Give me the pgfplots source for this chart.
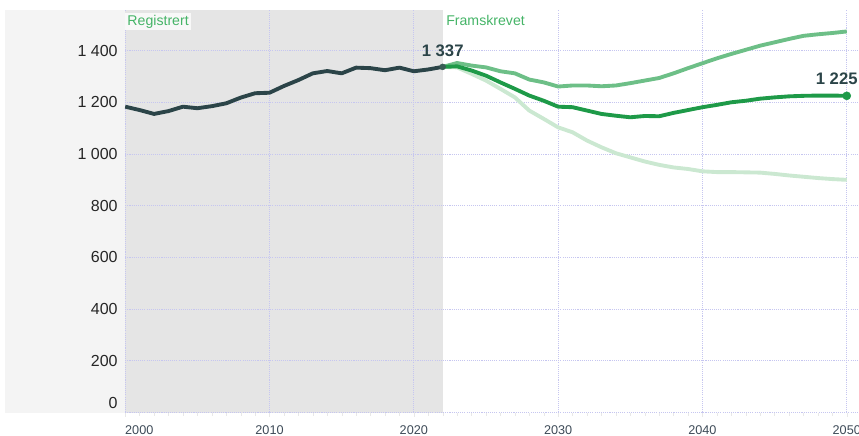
\documentclass[border=0pt]{standalone}
\usepackage{fontspec}
\setmainfont{Liberation Sans}
\usepackage{pgfplots}
\pgfplotsset{compat=1.18}
\definecolor{slate}{HTML}{2B4448}
\definecolor{gmain}{HTML}{1E9A48}
\definecolor{ghigh}{HTML}{6DBF87}
\definecolor{glow}{HTML}{CBE8D1}
\definecolor{gtext}{HTML}{45B467}
\definecolor{gridc}{HTML}{C6C6F0}
\definecolor{stripc}{HTML}{F4F4F4}
\definecolor{histc}{HTML}{E5E5E5}
\definecolor{xlab}{HTML}{3D4A57}

\begin{document}
\begin{tikzpicture}
\begin{axis}[
  at={(0,0)}, anchor=south west,
  scale only axis, width=548.85pt, height=301.9pt,
  xmin=2000, xmax=2050.71, ymin=0, ymax=1557,
  set layers=standard, clip=false,
  axis line style={draw=none},
  xtick={2000,2010,2020,2030,2040,2050},
  xticklabels={\makebox[0pt][l]{2000},2010,2020,2030,2040,2050},
  minor x tick num=9,
  ytick={0,200,400,600,800,1000,1200,1400},
  yticklabels={\raisebox{7.5pt}[\height][\depth]{0},200,400,600,800,1\ 000,1\ 200,1\ 400},
  xtick pos=bottom, ytick pos=left,
  tick align=outside,
  major tick length=3pt, minor tick length=2.5pt,
  xtick style={color=black!9},
  ytick style={draw=none},
  grid=major,
  major grid style={gridc, line width=0.6pt, dash pattern=on 0.8pt off 0.8pt},
  xticklabel style={font=\fontsize{9.5}{10}\selectfont, text=xlab, inner sep=0pt, anchor=north, yshift=-6.3pt},
  yticklabel style={font=\fontsize{12}{13}\selectfont, text=black!85, inner sep=0pt, anchor=east, xshift=-2.5pt},
]
% backgrounds
\addplot[draw=none, fill=stripc, on layer=axis background]
  coordinates {(1991.67,0) (2000,0) (2000,1557) (1991.67,1557)} -- cycle;
\addplot[draw=none, fill=histc, on layer=axis background]
  coordinates {(2000,0) (2022,0) (2022,1557) (2000,1557)} -- cycle;

% lav
\addplot[glow, line width=2.9pt, line join=round] coordinates {
 (2022,1337)(2023,1335)(2024,1310)(2025,1284)(2026,1252)(2027,1219)(2028,1168)
 (2029,1136)(2030,1103)(2031,1084)(2032,1052)(2033,1026)(2034,1003)(2035,987)
 (2036,971)(2037,958)(2038,948)(2039,942)(2040,933)(2041,930)(2042,930)
 (2043,929)(2044,928)(2045,923)(2046,917)(2047,912)(2048,907)(2049,903)(2050,900)};
% hoy
\addplot[ghigh, line width=2.9pt, line join=round] coordinates {
 (2022,1337)(2023,1352)(2024,1342)(2025,1335)(2026,1320)(2027,1312)(2028,1288)
 (2029,1277)(2030,1261)(2031,1265)(2032,1265)(2033,1262)(2034,1265)(2035,1274)
 (2036,1284)(2037,1294)(2038,1312)(2039,1332)(2040,1351)(2041,1370)(2042,1387)
 (2043,1403)(2044,1419)(2045,1432)(2046,1445)(2047,1457)(2048,1463)(2049,1468)(2050,1474)};
% hovedalternativ
\addplot[gmain, line width=2.9pt, line join=round] coordinates {
 (2022,1337)(2023,1339)(2024,1323)(2025,1303)(2026,1277)(2027,1252)(2028,1226)
 (2029,1206)(2030,1183)(2031,1181)(2032,1168)(2033,1155)(2034,1148)(2035,1142)
 (2036,1147)(2037,1146)(2038,1159)(2039,1170)(2040,1181)(2041,1190)(2042,1200)
 (2043,1206)(2044,1214)(2045,1219)(2046,1223)(2047,1225)(2048,1226)(2049,1226)(2050,1225)};
% registrert
\addplot[slate, line width=2.9pt, line join=round] coordinates {
 (2000,1183)(2001,1170)(2002,1155)(2003,1166)(2004,1183)(2005,1177)(2006,1185)
 (2007,1196)(2008,1218)(2009,1235)(2010,1237)(2011,1263)(2012,1286)(2013,1312)
 (2014,1321)(2015,1312)(2016,1334)(2017,1332)(2018,1324)(2019,1334)(2020,1320)
 (2021,1327)(2022,1337)};

\addplot[only marks, mark=*, mark size=2.2pt, color=slate!80!ghigh] coordinates {(2022,1337)};
\addplot[only marks, mark=*, mark size=3pt, color=gmain] coordinates {(2050,1225)};

\node[anchor=south, inner sep=0pt, yshift=7.3pt, text=slate,
  font=\bfseries\fontsize{12.5}{13}\selectfont] at (axis cs:2022,1337) {1 337};
\node[anchor=south east, inner sep=0pt, xshift=8.3pt, yshift=8pt, text=slate,
  font=\bfseries\fontsize{12.5}{13}\selectfont] at (axis cs:2050,1225) {1 225};

\node[anchor=north west, fill=stripc!60!white, text=gtext, inner sep=1.5pt, yshift=-2.2pt,
  font=\fontsize{10.6}{11}\selectfont] at (axis description cs:0,1) {Registrert};
\node[anchor=north west, text=gtext, inner sep=1.5pt, yshift=-2.2pt, xshift=1pt,
  font=\fontsize{10.6}{11}\selectfont] at (axis cs:2022,1557) {Framskrevet};
\end{axis}
% page = 859x435 px at 0.75pt per px, plot corner at px (125.2,412.5)
\pgfresetboundingbox
\path (-93.9pt,-16.9pt) rectangle (550.35pt,309.4pt);
\end{tikzpicture}
\end{document}
